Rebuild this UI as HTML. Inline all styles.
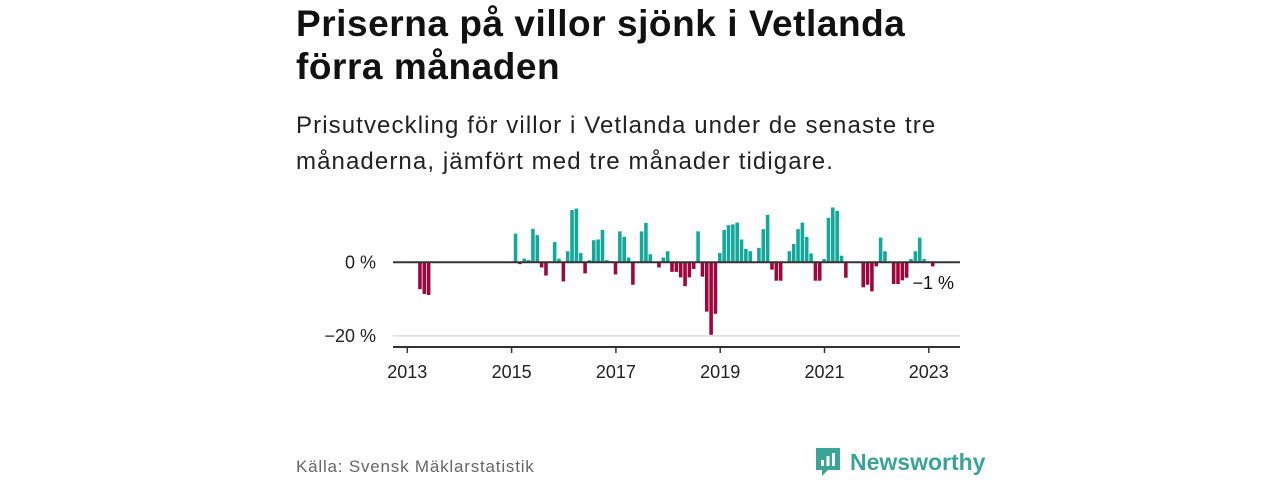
<!DOCTYPE html>
<html><head><meta charset="utf-8"><style>
body{margin:0;width:1280px;height:480px;background:#fff;font-family:"Liberation Sans",sans-serif;overflow:hidden;position:relative}
#title{position:absolute;left:296px;top:2px;font-size:37px;font-weight:bold;line-height:43px;color:#111;margin:0;letter-spacing:0.55px}
#sub{position:absolute;left:296px;top:108px;font-size:24px;line-height:36px;color:#222;margin:0;letter-spacing:1.1px}
#src{position:absolute;left:296px;top:457px;font-size:17px;color:#666;letter-spacing:0.8px}
#logo{position:absolute;left:814px;top:446px;display:flex;align-items:center;gap:8px}
#logo span{font-size:23px;font-weight:bold;color:#3aa597}
</style></head><body>
<h1 id="title">Priserna på villor sjönk i Vetlanda<br>förra månaden</h1>
<p id="sub">Prisutveckling för villor i Vetlanda under de senaste tre<br>månaderna, jämfört med tre månader tidigare.</p>
<svg id="chart" width="1280" height="480" style="position:absolute;left:0;top:0"></svg>
<div id="src">Källa: Svensk Mäklarstatistik</div>
<div id="logo">
<svg width="28" height="32" viewBox="0 0 28 32"><path d="M2 2h24v22H14l-6 6v-6H2z" fill="#3aa597"/><rect x="7" y="14" width="3" height="6" fill="#fff"/><rect x="12.5" y="10" width="3" height="10" fill="#fff"/><rect x="18" y="7" width="3" height="13" fill="#fff"/></svg>
<span>Newsworthy</span></div>
<script>
const startYear = 2013;
const values = [null,null,-7.3,-8.6,-8.9,null,null,null,null,null,null,null,
null,null,null,null,null,null,null,null,null,null,null,null,
7.8,-0.5,1.0,0.6,9.1,7.4,-1.4,-3.6,null,5.5,1.0,-5.2,
3.0,14.2,14.6,2.5,-3.0,0.6,6.0,6.2,8.8,0.6,0.3,-3.3,
8.4,6.9,1.3,-6.1,null,8.4,10.7,2.2,null,-1.4,1.3,3.0,
-2.6,-2.6,-4.1,-6.5,-4.1,-1.8,8.4,-3.9,-13.4,-19.7,-14.0,2.5,
8.8,10.1,10.3,10.8,6.2,3.6,3.0,null,3.9,9.0,12.9,-2.0,
-5.0,-5.0,null,3.0,5.0,9.0,10.8,6.9,2.4,-5.0,-5.0,0.9,
12.1,14.9,14.0,1.8,-4.2,null,null,null,-6.8,-6.1,-7.9,-1.1,
6.7,3.0,null,-5.9,-5.9,-4.9,-4.2,0.9,3.0,6.7,0.9,null,
-1.1];
const yTicks = [0,-20];
const yTickLabels = ["0 %","−20 %"];
const xTicks = [2013,2015,2017,2019,2021,2023];
const lastLabel = "−1 %";

const NS="http://www.w3.org/2000/svg";
const svg=document.getElementById('chart');
const x0=407.3, pxYear=52.15;
function xs(yearFrac){return x0+(yearFrac-startYear)*pxYear;}
function ys(v){return 262.3-v*3.68;}
function mk(t,a){const e=document.createElementNS(NS,t);for(const k in a)e.setAttribute(k,a[k]);svg.appendChild(e);return e;}
const L=393,R=960;
yTicks.forEach((t,i)=>{
  if(t!==0){const g=mk('line',{x1:L,x2:R,y1:ys(t),y2:ys(t),stroke:'#ddd','stroke-width':1.5});
  
  }
  const tx=mk('text',{x:376,y:ys(t)+6,'text-anchor':'end','font-size':18,fill:'#222','font-family':'Liberation Sans, sans-serif'});
  tx.textContent=yTickLabels[i];
  
  
});
const bw=pxYear/12*0.82;
values.forEach((v,i)=>{
  if(v===null)return;
  const xl=xs(startYear+(i+0.5)/12);
  const y=Math.min(ys(v),ys(0)), h=Math.abs(ys(v)-ys(0));
  const b=mk('rect',{x:xl,y:y,width:bw,height:Math.max(h,0.8),fill:v>=0?'#14a89b':'#a0063c'});
  
  
});
const zl=mk('line',{x1:L,x2:R,y1:ys(0),y2:ys(0),stroke:'#333','stroke-width':2});


const ax=mk('line',{x1:L,x2:R,y1:347,y2:347,stroke:'#333','stroke-width':2});


xTicks.forEach(t=>{
  const tk=mk('line',{x1:xs(t),x2:xs(t),y1:347,y2:353,stroke:'#333','stroke-width':1.5});
  
  
  const tx=mk('text',{x:xs(t),y:378,'text-anchor':'middle','font-size':18,fill:'#222','font-family':'Liberation Sans, sans-serif'});
  tx.textContent=t;
  
  
});
const ll=mk('text',{x:954,y:289,'text-anchor':'end','font-size':18,fill:'#111','font-family':'Liberation Sans, sans-serif'});
ll.textContent=lastLabel;


</script>
</body></html>
